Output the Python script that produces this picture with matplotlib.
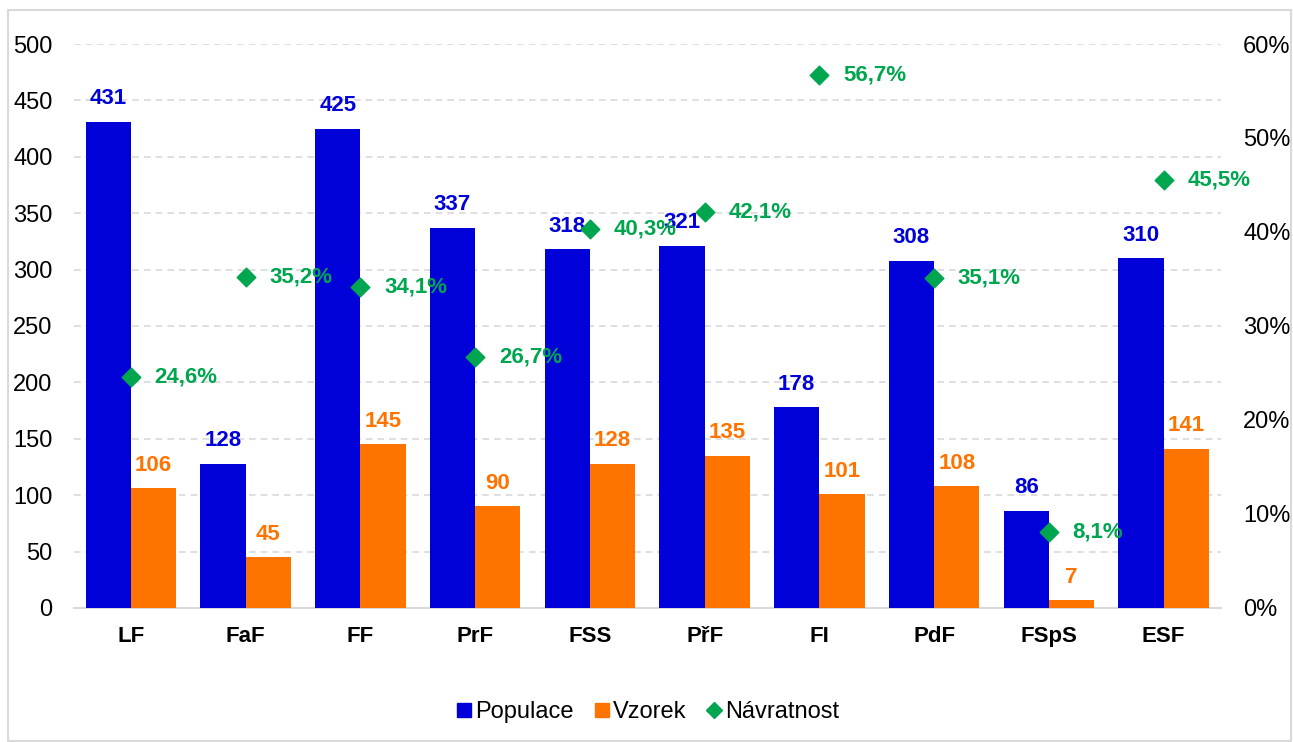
import matplotlib.pyplot as plt
import numpy as np
from matplotlib.patches import Rectangle
from matplotlib.lines import Line2D

plt.rcParams['font.family'] = ['Liberation Sans', 'DejaVu Sans']

# data
fakulty = ['LF', 'FaF', 'FF', 'PrF', 'FSS', 'PřF', 'FI', 'PdF', 'FSpS', 'ESF']
populace = [431, 128, 425, 337, 318, 321, 178, 308, 86, 310]
vzorek = [106, 45, 145, 90, 128, 135, 101, 108, 7, 141]
navratnost = [24.6, 35.2, 34.1, 26.7, 40.3, 42.1, 56.7, 35.1, 8.1, 45.5]

blue = '#0000D8'
orange = '#FF7300'
green = '#00A64F'

fig = plt.figure(figsize=(12.93, 7.42), dpi=100)
ax = fig.add_axes([0.0569, 0.1806, 0.8874, 0.7601])
ax2 = ax.twinx()

x = np.arange(len(fakulty))
w = 0.395
ax.bar(x - w/2, populace, w, color=blue, zorder=3)
ax.bar(x + w/2, vzorek, w, color=orange, zorder=3)

for i in range(len(x)):
    ax.annotate(str(populace[i]), (x[i] - w/2, populace[i]), xytext=(0, 9),
                textcoords='offset points', ha='center', va='bottom',
                color=blue, fontsize=16, fontweight='bold', zorder=5)
    ax.annotate(str(vzorek[i]), (x[i] + w/2, vzorek[i]), xytext=(0, 9),
                textcoords='offset points', ha='center', va='bottom',
                color=orange, fontsize=16, fontweight='bold', zorder=5)

ax.set_xlim(-0.5, len(x) - 0.5)
ax.set_ylim(0, 500)
ax.set_yticks(range(0, 501, 50))
ax.yaxis.grid(True, color='#D9D9D9', linestyle=(0, (4, 3)), linewidth=1.2, zorder=0)
ax.set_axisbelow(True)
ax.set_xticks(x)
ax.set_xticklabels(fakulty, fontsize=16, fontweight='bold')
ax.tick_params(axis='both', length=0)
ax.tick_params(axis='y', labelsize=17, pad=15)
ax.tick_params(axis='x', pad=13)
for s in ['top', 'right', 'left']:
    ax.spines[s].set_visible(False)
ax.spines['bottom'].set_color('#D9D9D9')
ax.spines['bottom'].set_linewidth(1.5)

ax2.scatter(x, navratnost, marker='D', s=90, color=green, zorder=6)
for i in range(len(x)):
    ax2.annotate(f'{navratnost[i]:.1f}%'.replace('.', ','), (x[i], navratnost[i]),
                 xytext=(17, 0), textcoords='offset points', ha='left', va='center',
                 color=green, fontsize=16, fontweight='bold')
ax2.set_ylim(0, 60)
ax2.set_yticks(range(0, 61, 10))
ax2.set_yticklabels([f'{v}%' for v in range(0, 61, 10)])
ax2.tick_params(axis='y', length=0, labelsize=17, pad=16)
for s in ['top', 'right', 'left', 'bottom']:
    ax2.spines[s].set_visible(False)
ax.set_zorder(ax2.get_zorder() - 1)
ax.patch.set_visible(False)

handles = [
    Line2D([], [], marker='s', color=blue, linestyle='none', markersize=9.5),
    Line2D([], [], marker='s', color=orange, linestyle='none', markersize=9.5),
    Line2D([], [], marker='D', color=green, linestyle='none', markersize=8.5),
]
fig.legend(handles, ['Populace', 'Vzorek', 'Návratnost'], loc='center',
           bbox_to_anchor=(0.5, 0.040), ncol=3, frameon=False, fontsize=17,
           handletextpad=0.0, columnspacing=0.75, handlelength=0.9)

fig.patches.append(Rectangle((8/1293, 0.001), (1291-8)/1293, (742-10)/742 - 0.001,
                             transform=fig.transFigure, fill=False,
                             edgecolor='#D9D9D9', linewidth=1.5))

fig.savefig('out.png', dpi=100)
